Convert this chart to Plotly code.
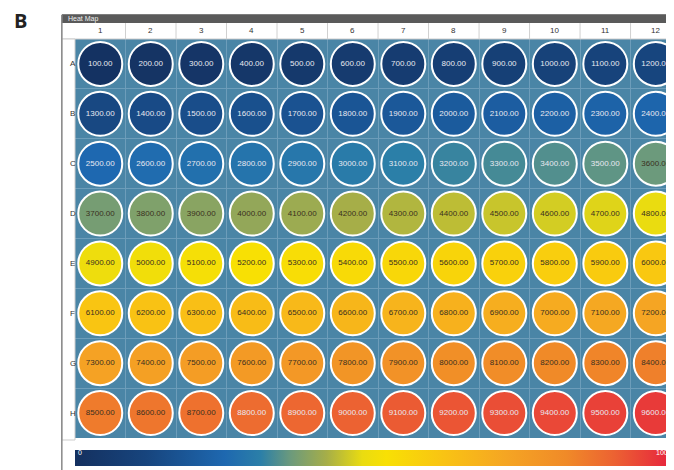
import plotly.graph_objects as go

rows = ["A", "B", "C", "D", "E", "F", "G", "H"]
cols = list(range(1, 13))
values = [[100 * (r * 12 + c + 1) for c in range(12)] for r in range(8)]

colorscale = [
    [0.0, "#14305f"], [0.12, "#17457e"], [0.25, "#1e68b0"], [0.31, "#2b7fa8"],
    [0.36, "#6c9a7c"], [0.42, "#a6ae48"], [0.48, "#eadc10"], [0.52, "#f8e004"],
    [0.62, "#f9c214"], [0.72, "#f5a523"], [0.82, "#f08a28"], [0.9, "#ec6232"],
    [1.0, "#e6203e"],
]

xs, ys, zs, labels, tcolors = [], [], [], [], []
for ri, r in enumerate(rows):
    for ci, c in enumerate(cols):
        v = values[ri][ci]
        xs.append(c)
        ys.append(ri + 1)
        zs.append(v)
        labels.append(f"{v:.2f}")
        tcolors.append("#e8e8f0" if (v < 3600 or v > 8750) else "#3a3020")

fig = go.Figure(go.Scatter(
    x=xs, y=ys, mode="markers+text", text=labels,
    textfont=dict(size=8, color=tcolors, family="Liberation Sans"),
    marker=dict(size=44, color=zs, cmin=0, cmax=10000, colorscale=colorscale,
                line=dict(color="white", width=2),
                colorbar=dict(orientation="h", x=0, xanchor="left", len=1.0, lenmode="fraction",
                              xpad=0, ypad=0, y=-0.03, yanchor="top", thickness=16,
                              outlinewidth=0, showticklabels=False, ticks="")),
    hoverinfo="skip", showlegend=False,
))

shapes = [
    dict(type="rect", xref="paper", yref="paper", x0=-0.022, x1=1.02, y0=1.0, y1=1.06,
         fillcolor="white", line=dict(color="#cccccc", width=1)),
    dict(type="rect", xref="paper", yref="paper", x0=-0.022, x1=1.02, y0=1.04, y1=1.062,
         fillcolor="#5a5a5a", line=dict(width=0)),
    dict(type="rect", xref="paper", yref="paper", x0=-0.022, x1=0, y0=-0.005, y1=1.0,
         fillcolor="white", line=dict(color="#cccccc", width=1)),
    dict(type="line", xref="paper", yref="paper", x0=-0.022, x1=-0.022, y0=-0.08, y1=1.06,
         line=dict(color="#888888", width=1.5)),
]
for c in cols[1:]:
    shapes.append(dict(type="line", xref="x", yref="paper", x0=c - 0.5, x1=c - 0.5,
                       y0=1.0, y1=1.04, line=dict(color="#d0d0d0", width=1)))

annotations = [
    dict(text="<b>B</b>", xref="paper", yref="paper", x=-0.105, y=1.085, showarrow=False,
         font=dict(size=20, color="#222222", family="Open Sans")),
    dict(text="Heat Map", xref="paper", yref="paper", x=-0.015, y=1.051, xanchor="left",
         yanchor="middle", showarrow=False,
         font=dict(size=7, color="#eeeeee", family="Liberation Sans")),
    dict(text="0", xref="paper", yref="paper", x=0.002, y=-0.05, xanchor="left",
         showarrow=False, font=dict(size=7, color="white", family="Liberation Sans")),
    dict(text="1000", xref="paper", yref="paper", x=1.0, y=-0.05, xanchor="right",
         showarrow=False, font=dict(size=7, color="white", family="Liberation Sans")),
]
for c in cols:
    annotations.append(dict(text=str(c), xref="x", yref="paper", x=c, y=1.022, yanchor="middle",
                            showarrow=False,
                            font=dict(size=8, color="#333333", family="Liberation Sans")))
for ri, r in enumerate(rows):
    annotations.append(dict(text=r, xref="paper", yref="y", x=-0.011, y=ri + 1, showarrow=False,
                            font=dict(size=8, color="#333333", family="Liberation Sans")))

# page body has an 8px margin, so the figure is sized to fill the rest of the window
fig.update_layout(
    width=666, height=462, margin=dict(l=67, r=0, t=31, b=32, autoexpand=False),
    paper_bgcolor="white", plot_bgcolor="#4a85a6",
    xaxis=dict(range=[0.5, 12.36], tickvals=[c + 0.5 for c in cols], showticklabels=False,
               gridcolor="#6d9dba", gridwidth=1, zeroline=False, fixedrange=True),
    yaxis=dict(range=[8.5, 0.5], tickvals=[r + 0.5 for r in range(1, 9)], showticklabels=False,
               gridcolor="#6d9dba", gridwidth=1, zeroline=False, fixedrange=True),
    shapes=shapes, annotations=annotations,
)

fig.write_html("out.html")
